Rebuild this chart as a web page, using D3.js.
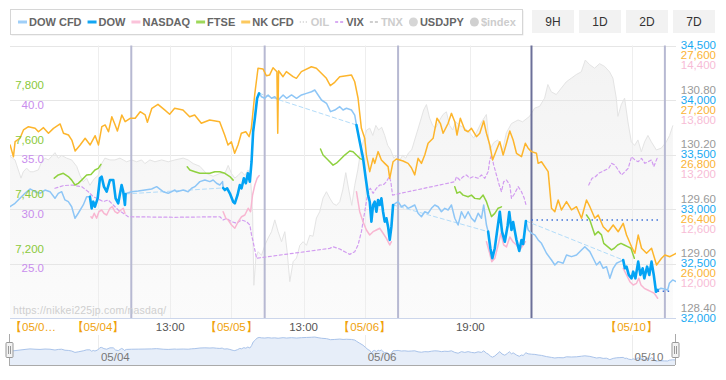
<!DOCTYPE html>
<html><head><meta charset="utf-8">
<script src="https://cdn.jsdelivr.net/npm/d3@7/dist/d3.min.js"></script>
<style>
body{margin:0;background:#fff;}
svg{display:block;font-family:"Liberation Sans",Arial,Helvetica,sans-serif;}
</style>
</head><body>
<svg id="c" width="726" height="380"></svg>
<script>
// ---------- DATA (time = display hours from 05/03 00:00, weekend removed) ----------
const timeRange = [8.18, 128.0];
const xTickHours = [24, 37, 48, 61, 72, 91, 120];
const xTickLabels = ["【05/04】", "13:00", "【05/05】", "13:00", "【05/06】", "19:00", "【05/10】"];
const firstLabel = "【05/0…";
const sessionLines = [30, 54, 78, 102, 126];
const weekendBreak = [102];
const navTickHours = [24, 72, 120];
const navTickLabels = ["05/04", "05/06", "05/10"];
const rangeButtons = ["9H", "1D", "2D", "7D"];

const dowRange = [32000, 34500];
const nkRange = [25600, 27600];
const nasdaqRange = [11400, 14400];
const usdjpyRange = [128.4, 131.4];
const ftseRange = [7000, 8000];
const vixRange = [20, 45];
const navRange = [31950, 34250];

const dowTicks = [34500, 34000, 33500, 33000, 32500, 32000];
const nkTicks = [27600, 27200, 26800, 26400, 26000];
const nasdaqTicks = [14400, 13800, 13200, 12600, 12000];
const usdjpyTicks = [130.80, 130.20, 129.60, 129.00, 128.40];
const ftseTicks = [7800, 7600, 7400, 7200];
const vixTicks = [40, 35, 30, 25];

const dowCfd = [
 [[8.18,33021],[9.08,33052],[9.98,33098],[10.88,33144],[11.78,33184],[12.68,33159],[13.58,33144],[14.48,33174],[15.37,33159],[16.27,33098],[16.87,33144],[17.48,33159],[18.07,33083],[18.67,33067],[19.28,33021],[19.87,32915],[20.46,32961],[21.36,33037],[21.97,33113],[22.56,33113]],
 [[28.98,33138],[29.16,33144],[30.06,33159],[31.25,33165],[32.45,33174],[33.66,33184],[34.56,33205],[35.74,33159],[36.64,33144],[37.85,33174],[38.15,33159],[39.34,33174],[40.23,33159],[40.85,33190],[41.44,33205],[42.34,33251],[43.24,33266],[44.14,33251],[44.73,33266],[45.34,33236],[45.93,33220],[46.42,33251],[46.53,33193]],
 [[53.0,34061],[53.43,34030],[54.02,34016],[54.62,34046],[55.23,34016],[55.82,34030],[56.42,34000],[57.32,34046],[57.93,34016],[58.83,34046],[59.73,34016],[60.62,34046],[61.52,34061],[62.42,34076],[63.01,34092],[63.61,34046],[64.22,34000],[65.12,33970],[65.84,33893],[66.61,33908],[67.51,33939],[68.1,33908],[68.71,33924],[69.61,33908],[70.2,33862],[70.51,33771]],
 [[77.1,33037],[78.0,33067],[78.6,33021],[79.2,33037],[79.8,33006],[80.4,33021],[81.0,33037],[81.6,32961],[82.2,32929],[82.8,32975],[83.4,32961],[84.0,33006],[84.6,33037],[85.2,33021],[85.8,32975],[86.4,33006],[87.0,32991],[87.6,33037],[88.2,32915],[88.8,32853],[89.4,32975],[90.0,32915],[90.6,32975],[91.2,32915],[91.8,32884],[92.4,32961],[93.0,32915],[93.4,33037],[93.9,32853],[94.2,32792]],
 [[101.0,32890],[101.4,32807],[102.0,32777],[102.6,32762],[103.2,32716],[103.8,32685],[104.7,32594],[105.6,32532],[106.2,32486],[106.8,32517],[107.7,32502],[108.3,32578],[109.2,32563],[110.1,32578],[111.0,32624],[111.6,32654],[112.5,32609],[113.1,32548],[113.7,32486],[114.3,32517],[114.9,32456],[115.5,32471],[116.1,32364],[116.7,32456],[117.3,32502],[117.9,32517],[118.5,32532]],
 [[124.7,32257],[125.3,32273],[125.9,32266],[126.5,32257],[126.8,32318],[127.4,32349],[128.0,32333]]
];

const dow = [
 [[22.56,33113],[22.87,33006],[23.16,33067],[23.46,33021],[23.95,33098],[24.36,33282],[24.67,33296],[25.08,33205],[25.57,33159],[26.16,33266],[26.76,33266],[27.18,33098],[27.65,33052],[28.26,33220],[28.55,33159],[28.86,33037],[28.98,33138]],
 [[46.53,33193],[46.83,33174],[47.25,33190],[47.73,33144],[48.33,33067],[48.63,33052],[49.12,33129],[49.53,33220],[49.84,33190],[50.25,33282],[50.61,33236],[50.97,33328],[51.33,33251],[51.64,33434],[51.92,33709],[52.23,33832],[52.64,34016],[53.0,34061]],
 [[70.51,33771],[71.1,33617],[71.7,33465],[72.18,33282],[72.6,33129],[72.9,33067],[73.2,32884],[73.5,33037],[73.8,33067],[74.1,32975],[74.4,33083],[74.7,33037],[75.0,33098],[75.3,32975],[75.6,32884],[75.9,32915],[76.2,32838],[76.5,32716],[76.8,32838],[77.1,33037]],
 [[94.2,32792],[94.6,32640],[94.96,32548],[95.4,32640],[95.8,32792],[96.3,32975],[96.7,32792],[97.2,32700],[97.7,32844],[98.0,32973],[98.4,32807],[98.7,32881],[99.3,32716],[99.8,32615],[100.2,32716],[100.5,32679],[101.0,32890]],
 [[118.5,32532],[118.8,32456],[119.1,32471],[119.5,32395],[120.0,32364],[120.3,32425],[120.7,32364],[121.2,32517],[121.6,32395],[122.0,32456],[122.3,32364],[122.8,32471],[123.2,32395],[123.6,32517],[124.0,32395],[124.4,32241],[124.7,32257]]
];

const dowPrevClose = [[102.0, 125.2, 32899], [124.7, 127.4, 32245]];

const nasdaq = [
 [[22.74,12515],[22.97,12498],[23.33,12553],[23.76,12498],[24.18,12570],[24.67,12589],[25.08,12553],[25.57,12534],[26.16,12608],[26.57,12625],[27.06,12570],[27.54,12553],[28.14,12589],[28.55,12608],[28.86,12553]],
 [[46.53,12570],[47.01,12498],[47.43,12479],[48.04,12424],[48.63,12388],[49.23,12460],[49.84,12515],[50.43,12534],[51.03,12608],[51.46,12570],[51.82,12754],[52.23,12864],[52.64,12938],[53.0,12967]],
 [[70.51,12790],[70.8,12680],[71.1,12570],[71.7,12460],[72.3,12369],[72.9,12314],[73.5,12350],[74.1,12369],[74.7,12388],[75.3,12333],[75.9,12277],[76.5,12204],[76.8,12240]],
 [[93.9,12240],[94.4,12130],[94.85,12020],[95.4,12057],[96.0,12204],[96.5,12333],[97.0,12204],[97.5,12182],[98.1,12292],[98.7,12237],[99.3,12204],[99.9,12149],[100.5,12204],[100.9,12240]],
 [[118.5,11947],[119.1,11873],[119.7,11800],[120.3,11763],[120.9,11782],[121.3,11837],[121.7,11763],[122.3,11727],[122.9,11708],[123.5,11690],[124.1,11672],[124.7,11617]]
];

const ftse = [
 [[16.14,7513],[16.87,7525],[17.77,7531],[18.67,7519],[19.28,7506],[19.87,7488],[20.46,7494],[21.07,7506],[21.97,7525],[22.74,7527],[23.46,7543],[24.06,7549],[24.54,7564]],
 [[40.06,7555],[40.54,7543],[41.44,7537],[42.34,7531],[43.24,7531],[44.14,7531],[45.04,7537],[45.93,7537],[46.83,7531],[47.73,7519],[48.33,7506]],
 [[64.04,7620],[64.5,7598],[65.4,7580],[66.3,7561],[66.9,7568],[67.51,7580],[68.4,7598],[69.3,7613],[69.9,7610],[70.5,7598],[71.1,7586],[71.7,7580]],
 [[88.2,7482],[88.6,7458],[89.1,7463],[89.7,7451],[90.6,7445],[91.2,7451],[91.8,7439],[92.7,7437],[93.3,7451],[93.9,7427],[94.8,7372],[95.4,7384],[96.0,7403],[96.6,7408]],
 [[111.9,7378],[112.5,7360],[112.9,7335],[113.4,7305],[114.0,7317],[114.6,7305],[115.0,7274],[115.7,7262],[116.4,7250],[116.9,7256],[117.5,7268],[118.1,7274],[118.7,7268],[119.3,7262],[119.9,7256],[120.5,7219]]
];

const nkCfd = [[8.2,26870],[8.8,26784],[9.1,26894],[10.0,26921],[10.6,26980],[11.5,27004],[12.7,26992],[13.3,26967],[14.2,26997],[15.1,26956],[16.0,26992],[17.2,27024],[17.8,26956],[18.7,26943],[19.3,26906],[19.9,26826],[20.8,26870],[21.7,26919],[22.6,26870],[23.5,26938],[24.1,26870],[24.7,27004],[25.3,27017],[25.9,26967],[26.5,27077],[27.1,27017],[27.5,26973],[28.3,27090],[28.9,27041],[29.8,27066],[30.7,27066],[31.6,27114],[32.5,27090],[32.9,27036],[33.7,27139],[34.8,27168],[36.0,27127],[36.9,27095],[37.8,27139],[39.3,27127],[40.5,27077],[41.4,27090],[42.6,27029],[44.1,27053],[45.9,27041],[46.8,26943],[47.4,26870],[48.0,26894],[48.6,26809],[49.2,26870],[49.8,26956],[50.6,26967],[51.2,26931],[51.6,26992],[52.2,27237],[52.8,27433],[53.7,27428],[54.3,27378],[54.9,27384],[55.5,27437],[56.2,27408],[56.35,26956],[56.5,27415],[57.3,27371],[57.9,27408],[59.1,27371],[59.7,27359],[60.6,27408],[62.4,27444],[63.3,27433],[64.2,27396],[65.1,27359],[65.8,27305],[66.6,27330],[67.5,27371],[68.7,27378],[69.6,27384],[70.2,27334],[70.8,27213],[71.4,26992],[72.0,26919],[72.3,26796],[72.9,26674],[73.5,26772],[73.8,26735],[74.4,26821],[75.0,26760],[75.6,26735],[76.2,26711],[76.5,26625],[77.1,26747],[77.7,26767],[78.9,26752],[79.8,26735],[80.4,26703],[81.0,26650],[81.6,26772],[82.2,26735],[82.8,26796],[83.4,26882],[84.3,26919],[85.0,27066],[85.6,27029],[86.1,26956],[87.0,27029],[87.6,27102],[88.2,27041],[88.6,26943],[89.2,27066],[90.0,26980],[90.6,26967],[91.2,26992],[92.1,26931],[92.7,26956],[93.4,27046],[93.9,26956],[94.5,26870],[95.0,26760],[95.7,26833],[96.3,26894],[96.9,26796],[97.5,26882],[98.1,26973],[98.7,26906],[99.3,26809],[100.2,26784],[100.9,26882],[101.4,26846],[102.0,26821],[102.9,26809],[103.2,26735],[103.8,26747],[105.0,26674],[105.6,26405],[106.2,26380],[106.8,26466],[107.4,26393],[108.3,26454],[109.2,26393],[110.1,26417],[111.0,26332],[111.9,26466],[112.5,26417],[113.4,26332],[114.0,26356],[114.9,26270],[115.8,26233],[116.7,26283],[117.6,26233],[118.5,26295],[119.1,26209],[120.0,26123],[120.6,26075],[121.2,26209],[121.8,26112],[122.7,26075],[123.6,26112],[124.5,25989],[125.4,26038],[126.0,26062],[126.9,26050],[128.0,26075]];

const vix = [
 [[16.27,31.90],[17.76,32.14],[19.28,32.20],[21.07,32.05],[22.26,31.59],[23.16,31.13],[24.06,30.92],[24.95,30.67],[25.85,30.83],[26.76,30.37],[27.65,29.91],[28.55,29.61],[29.45,29.29],[37.85,29.24],[45.93,29.29],[46.53,28.99],[47.14,29.14],[48.04,28.84],[48.94,28.69],[49.84,28.99],[50.74,28.84],[51.33,28.53],[51.64,27.62],[51.92,27.0],[52.23,26.24],[52.53,25.48],[65.71,26.39],[66.3,26.54],[67.51,26.33],[68.4,26.08],[69.3,25.84],[70.2,26.08],[70.8,26.70],[71.4,27.92],[71.8,29.15],[72.2,30.37],[72.6,31.59],[73.0,31.90],[73.5,31.44],[74.1,31.90],[74.7,32.20],[75.3,32.20],[75.9,32.50],[76.4,32.96],[76.7,32.50],[77.0,31.28],[88.2,32.50],[88.5,32.96],[89.1,32.66],[89.7,32.96],[90.3,33.12],[90.9,32.82],[91.5,32.96],[92.4,32.82],[93.0,33.12],[93.6,32.82],[94.2,33.42],[94.5,34.50],[94.8,34.95],[95.2,34.04],[95.7,33.12],[96.2,32.20],[96.6,31.59],[97.0,32.50],[97.5,32.66],[98.1,32.20],[98.4,30.98],[99.0,31.44],[99.6,32.05],[100.2,31.59],[100.7,30.98],[101.1,30.21]],
 [[112.3,32.20],[112.9,32.82],[113.5,32.96],[114.1,33.28],[114.7,33.42],[115.3,33.58],[115.9,33.73],[116.4,34.19],[117.0,34.04],[117.6,33.58],[118.2,33.12],[118.8,33.42],[119.4,33.73],[120.0,34.80],[120.6,34.50],[121.2,34.34],[121.8,34.65],[122.4,34.19],[123.0,34.34],[123.6,34.50],[124.0,33.88],[124.6,34.65]]
];

const usdjpy = [[8.18,130.18],[9.08,130.14],[9.67,130.03],[10.16,129.94],[10.57,130.01],[11.18,130.05],[11.78,130.01],[12.37,130.01],[13.27,130.03],[13.88,130.12],[14.48,130.16],[15.07,130.14],[15.68,130.18],[16.27,130.22],[16.87,130.16],[17.48,130.19],[18.37,130.16],[19.28,130.14],[20.17,130.07],[20.77,129.97],[21.36,129.90],[21.97,129.94],[22.56,129.86],[22.97,129.90],[23.46,129.94],[24.06,129.97],[24.67,130.10],[25.26,130.16],[26.16,130.14],[27.06,130.14],[27.96,130.16],[28.55,130.14],[29.16,130.12],[30.06,130.14],[30.96,130.12],[31.86,130.14],[32.45,130.10],[33.35,130.14],[34.26,130.12],[35.46,130.14],[36.64,130.12],[37.85,130.14],[39.34,130.16],[40.23,130.14],[41.14,130.10],[42.34,130.07],[43.54,129.99],[44.73,129.96],[45.93,129.99],[46.83,129.99],[47.43,130.08],[48.04,129.99],[48.63,129.94],[49.23,129.97],[49.84,130.01],[50.43,129.97],[51.03,130.03],[51.46,129.94],[51.82,129.57],[52.05,128.76],[52.41,129.06],[52.82,129.13],[53.43,129.09],[54.02,129.20],[54.62,129.28],[55.23,129.35],[55.82,129.48],[56.42,129.35],[57.03,129.24],[57.62,129.35],[58.04,129.13],[58.52,128.80],[59.12,129.02],[59.73,129.06],[60.32,129.20],[60.92,129.24],[61.52,129.20],[62.11,129.31],[62.7,129.30],[63.31,129.50],[63.9,129.57],[64.5,129.72],[65.11,129.79],[65.71,129.72],[66.3,129.66],[66.91,129.64],[67.51,129.68],[68.05,129.81],[68.59,130.00],[69.13,129.81],[69.67,129.64],[70.2,129.86],[70.75,130.03],[71.3,130.25],[71.82,130.36],[72.36,130.47],[72.9,130.49],[73.45,130.41],[74.0,130.52],[74.5,130.47],[75.05,130.50],[75.6,130.41],[76.13,130.30],[76.67,130.25],[77.21,130.16],[77.75,130.19],[78.3,130.14],[78.83,130.19],[79.37,130.16],[79.91,130.22],[80.45,130.25],[80.99,130.36],[81.53,130.47],[82.07,130.58],[82.6,130.69],[83.1,130.75],[83.68,130.60],[84.22,130.52],[84.76,130.49],[85.48,130.58],[86.08,130.64],[86.69,130.67],[87.28,130.52],[87.82,130.47],[88.36,130.56],[89.08,130.52],[89.98,130.49],[90.88,130.44],[91.6,130.38],[92.32,130.47],[93.04,130.56],[93.89,130.64],[94.48,130.25],[95.2,130.33],[95.92,130.36],[96.82,130.25],[97.49,130.44],[98.39,130.54],[99.58,130.58],[100.4,130.56],[101.66,130.62],[102.56,130.71],[103.46,130.73],[104.36,130.82],[104.95,130.97],[105.56,130.89],[106.46,130.86],[107.36,130.93],[108.26,131.00],[109.16,131.04],[110.06,131.08],[110.96,131.11],[111.68,131.24],[112.45,131.19],[113.35,131.15],[114.25,131.20],[115.15,131.17],[116.05,131.11],[116.65,131.04],[117.26,130.82],[117.55,130.62],[118.16,130.75],[118.75,130.82],[119.35,130.56],[119.96,130.34],[120.55,130.30],[121.15,130.36],[121.76,130.23],[122.36,130.34],[122.95,130.41],[123.56,130.34],[124.46,130.25],[125.36,130.27],[126.26,130.34],[126.85,130.41],[127.44,130.52]];

const legendItems = [
 {name:"DOW CFD", color:"#9fcff8", type:"line", on:true},
 {name:"DOW", color:"#12a6f3", type:"line", on:true},
 {name:"NASDAQ", color:"#fbc3da", type:"line", on:true},
 {name:"FTSE", color:"#9ed85a", type:"line", on:true},
 {name:"NK CFD", color:"#fcc95e", type:"line", on:true},
 {name:"OIL", color:"#d8d8d8", type:"dot", on:false},
 {name:"VIX", color:"#d9acf3", type:"dash", on:true},
 {name:"TNX", color:"#cfcfcf", type:"dash", on:false},
 {name:"USDJPY", color:"#d6d6d6", type:"circle", on:true},
 {name:"$index", color:"#d0d0d0", type:"circle", on:false}
];

// ---------- DRAW ----------
const svg = d3.select("#c");
const P = {l:10, r:676, t:45.5, b:318};
const x = d3.scaleLinear().domain(timeRange).range([P.l, P.r]);
const yDow = d3.scaleLinear().domain(dowRange).range([P.b, P.t]);
const yNk = d3.scaleLinear().domain(nkRange).range([P.b, P.t]);
const yNas = d3.scaleLinear().domain(nasdaqRange).range([P.b, P.t]);
const yJpy = d3.scaleLinear().domain(usdjpyRange).range([P.b, P.t]);
const yFtse = d3.scaleLinear().domain(ftseRange).range([P.b, P.t]);
const yVix = d3.scaleLinear().domain(vixRange).range([P.b, P.t]);
const NAV = {t:335, b:365};
const yNav = d3.scaleLinear().domain(navRange).range([NAV.b, NAV.t]);

const C = {
  dowCfd:"#8ec6f6", dow:"#03a3f4", nas:"#f8b6d1", ftse:"#8fd13f", nk:"#fdb52c",
  vix:"#d29cf0", jpyLine:"#e4e4e4",
  lblGray:"#9a9a9a", lblBlue:"#18a9f2", lblOrange:"#fbb335", lblPink:"#f7bcd6",
  lblGreen:"#8cc93c", lblPurple:"#c98ded"
};

const defs = svg.append("defs");
const grad = defs.append("linearGradient").attr("id","jpyGrad")
  .attr("gradientUnits","userSpaceOnUse").attr("x1",0).attr("x2",0).attr("y1",P.t).attr("y2",P.b);
grad.append("stop").attr("offset",0).attr("stop-color","#f1f1f1").attr("stop-opacity",0.9);
grad.append("stop").attr("offset",1).attr("stop-color","#f8f8f8").attr("stop-opacity",0.6);
defs.append("clipPath").attr("id","plotClip").append("rect")
  .attr("x",P.l).attr("y",P.t-2).attr("width",P.r-P.l).attr("height",P.b-P.t+2);

// USDJPY area (background)
svg.append("path").datum(usdjpy)
  .attr("d", d3.area().x(d=>x(d[0])).y0(P.b).y1(d=>yJpy(d[1])))
  .attr("fill","url(#jpyGrad)");

// horizontal gridlines
svg.append("g").selectAll("line").data(dowTicks).join("line")
  .attr("x1",P.l).attr("x2",P.r).attr("y1",d=>Math.round(yDow(d))+0.5).attr("y2",d=>Math.round(yDow(d))+0.5)
  .attr("stroke","#e6e6e6").attr("stroke-width",1);

// vertical tick gridlines
svg.append("g").selectAll("line").data(xTickHours).join("line")
  .attr("x1",d=>Math.round(x(d))+0.5).attr("x2",d=>Math.round(x(d))+0.5).attr("y1",P.t).attr("y2",P.b)
  .attr("stroke","#eeeeee");

// USDJPY line
svg.append("path").datum(usdjpy)
  .attr("d", d3.line().x(d=>x(d[0])).y(d=>yJpy(d[1])))
  .attr("fill","none").attr("stroke",C.jpyLine).attr("stroke-width",1);

// session lines
svg.append("g").selectAll("line").data(sessionLines).join("line")
  .attr("x1",d=>x(d)).attr("x2",d=>x(d)).attr("y1",P.t).attr("y2",P.b)
  .attr("stroke",d=>weekendBreak.includes(d)?"#6c7099":"#b7b9d2").attr("stroke-width",2);

// axis line
svg.append("line").attr("x1",P.l).attr("x2",P.r).attr("y1",P.b+0.5).attr("y2",P.b+0.5)
  .attr("stroke","#ccd6eb");

const plotG = svg.append("g").attr("clip-path","url(#plotClip)");
function line(yS){ return d3.line().x(d=>x(d[0])).y(d=>yS(d[1])); }
function drawSegs(segs, yS, color, w, dash){
  plotG.append("g").selectAll("path").data(segs).join("path")
    .attr("d", line(yS)).attr("fill","none").attr("stroke",color)
    .attr("stroke-width",w).attr("stroke-linejoin","round").attr("stroke-linecap","round")
    .attr("stroke-dasharray",dash||null);
}
drawSegs(vix, yVix, C.vix, 1.2, "3,2.5");
drawSegs(ftse, yFtse, C.ftse, 1.5);
drawSegs(nasdaq, yNas, C.nas, 1.5);
// DOW gap connectors (dashed)
const connectors = dow.slice(0,-1).map((s,i)=>[s[s.length-1], dow[i+1][0]]);
drawSegs(connectors, yDow, "#b3dcf9", 1, "4,3");
drawSegs(dowCfd, yDow, C.dowCfd, 1.5);
drawSegs([nkCfd], yNk, C.nk, 1.5);
drawSegs(dow, yDow, C.dow, 2.6);
// previous close dotted lines
plotG.append("g").selectAll("line").data(dowPrevClose).join("line")
  .attr("x1",d=>x(d[0])).attr("x2",d=>x(d[1])).attr("y1",d=>yDow(d[2])).attr("y2",d=>yDow(d[2]))
  .attr("stroke","#3f73d8").attr("stroke-width",1.5).attr("stroke-dasharray","1.5,3.5");

// watermark
svg.append("text").attr("x",P.l+3).attr("y",P.b-4).text("https://nikkei225jp.com/nasdaq/")
  .attr("font-size",10.5).attr("fill","#cfcfcf").attr("letter-spacing",0.2);

// left labels
svg.append("g").selectAll("text").data(ftseTicks).join("text")
  .attr("x",44).attr("y",d=>yFtse(d)-11).attr("text-anchor","end")
  .attr("font-size",11.5).attr("fill",C.lblGreen).text(d=>d3.format(",")(d));
svg.append("g").selectAll("text").data(vixTicks).join("text")
  .attr("x",44).attr("y",d=>yVix(d)+8.5).attr("text-anchor","end")
  .attr("font-size",11.5).attr("fill",C.lblPurple).text(d=>d3.format(".1f")(d));

// right labels (stacked per gridline)
const RX = 716;
function rightLabels(ticks, yS, fmt, dy, color){
  svg.append("g").selectAll("text").data(ticks).join("text")
    .attr("x",RX).attr("y",d=>yS(d)+dy).attr("text-anchor","end")
    .attr("font-size",11.5).attr("fill",color).text(d=>d3.format(fmt)(d));
}
rightLabels(usdjpyTicks, yJpy, ".2f", -6.5, C.lblGray);
rightLabels(dowTicks, yDow, ",", 3.5, C.lblBlue);
rightLabels(nkTicks, yNk, ",", 13.5, C.lblOrange);
rightLabels(nasdaqTicks, yNas, ",", 23.5, C.lblPink);

// bottom labels
svg.append("g").selectAll("text").data(xTickHours).join("text")
  .attr("x",d=>x(d)).attr("y",331).attr("text-anchor","middle").attr("font-size",11.5)
  .attr("fill",(d,i)=>xTickLabels[i].startsWith("【")?"#f0a20c":"#555")
  .text((d,i)=>xTickLabels[i]);
svg.append("text").attr("x",x(timeRange[0])).attr("y",331).attr("font-size",11.5)
  .attr("fill","#f0a20c").text(firstLabel);

// navigator
const navData = dowCfd.concat(dow).flat().sort((a,b)=>a[0]-b[0]);
svg.append("g").selectAll("line").data(navTickHours).join("line")
  .attr("x1",d=>Math.round(x(d))+0.5).attr("x2",d=>Math.round(x(d))+0.5).attr("y1",NAV.t).attr("y2",NAV.b)
  .attr("stroke","#ececec");
svg.append("path").datum(navData)
  .attr("d", d3.area().x(d=>x(d[0])).y0(NAV.b).y1(d=>yNav(d[1])))
  .attr("fill","#e7eef9");
svg.append("path").datum(navData)
  .attr("d", d3.line().x(d=>x(d[0])).y(d=>yNav(d[1])))
  .attr("fill","none").attr("stroke","#a9c3ea").attr("stroke-width",1);
svg.append("g").selectAll("text").data(navTickHours).join("text")
  .attr("x",d=>x(d)+3).attr("y",361).attr("font-size",11.5).attr("fill","#777")
  .text((d,i)=>navTickLabels[i]);
svg.append("line").attr("x1",P.l-1).attr("x2",P.r-1).attr("y1",NAV.b+0.5).attr("y2",NAV.b+0.5).attr("stroke","#aaa");
[P.l-0.5, P.r-0.5].forEach(hx=>{
  svg.append("line").attr("x1",hx).attr("x2",hx).attr("y1",NAV.t-1).attr("y2",NAV.b).attr("stroke","#aaa");
  svg.append("rect").attr("x",hx-3.5).attr("y",342.5).attr("width",7).attr("height",15)
    .attr("fill","#f2f2f2").attr("stroke","#999").attr("rx",1);
  [-1,1].forEach(o=>svg.append("line").attr("x1",hx+o).attr("x2",hx+o).attr("y1",346).attr("y2",354).attr("stroke","#999"));
});

// legend
const lg = svg.append("g");
lg.append("rect").attr("x",11.5).attr("y",10.5).attr("width",512).attr("height",25).attr("fill","#e9e9e9");
lg.append("rect").attr("x",10.5).attr("y",9.5).attr("width",512).attr("height",25)
  .attr("fill","#fff").attr("stroke","#d6d6d6");
let lx = 18;
const ly = 22;
legendItems.forEach(it=>{
  if(it.type==="circle"){
    lg.append("circle").attr("cx",lx+4.5).attr("cy",ly).attr("r",4.5).attr("fill",it.color);
    lx += 11;
  } else {
    const ln = lg.append("line").attr("x1",lx).attr("x2",lx+9).attr("y1",ly).attr("y2",ly)
      .attr("stroke",it.color).attr("stroke-width",it.type==="line"?3:2);
    if(it.type==="dot") ln.attr("stroke-dasharray","1,2");
    if(it.type==="dash") ln.attr("stroke-dasharray","3,2");
    lx += 11;
  }
  const t = lg.append("text").attr("x",lx).attr("y",ly+4).attr("font-size",11).attr("font-weight","bold")
    .attr("fill",it.on?"#666":"#cdcdcd").text(it.name);
  lx += t.node().getComputedTextLength() + 6;
});

// range buttons
const bg = svg.append("g");
rangeButtons.forEach((b,i)=>{
  const bx = 532 + i*47;
  bg.append("rect").attr("x",bx).attr("y",10).attr("width",42).attr("height",23).attr("fill","#f2f2f2");
  bg.append("text").attr("x",bx+21).attr("y",26).attr("text-anchor","middle").attr("font-size",12)
    .attr("fill","#333").text(b);
});
</script>
</body></html>
